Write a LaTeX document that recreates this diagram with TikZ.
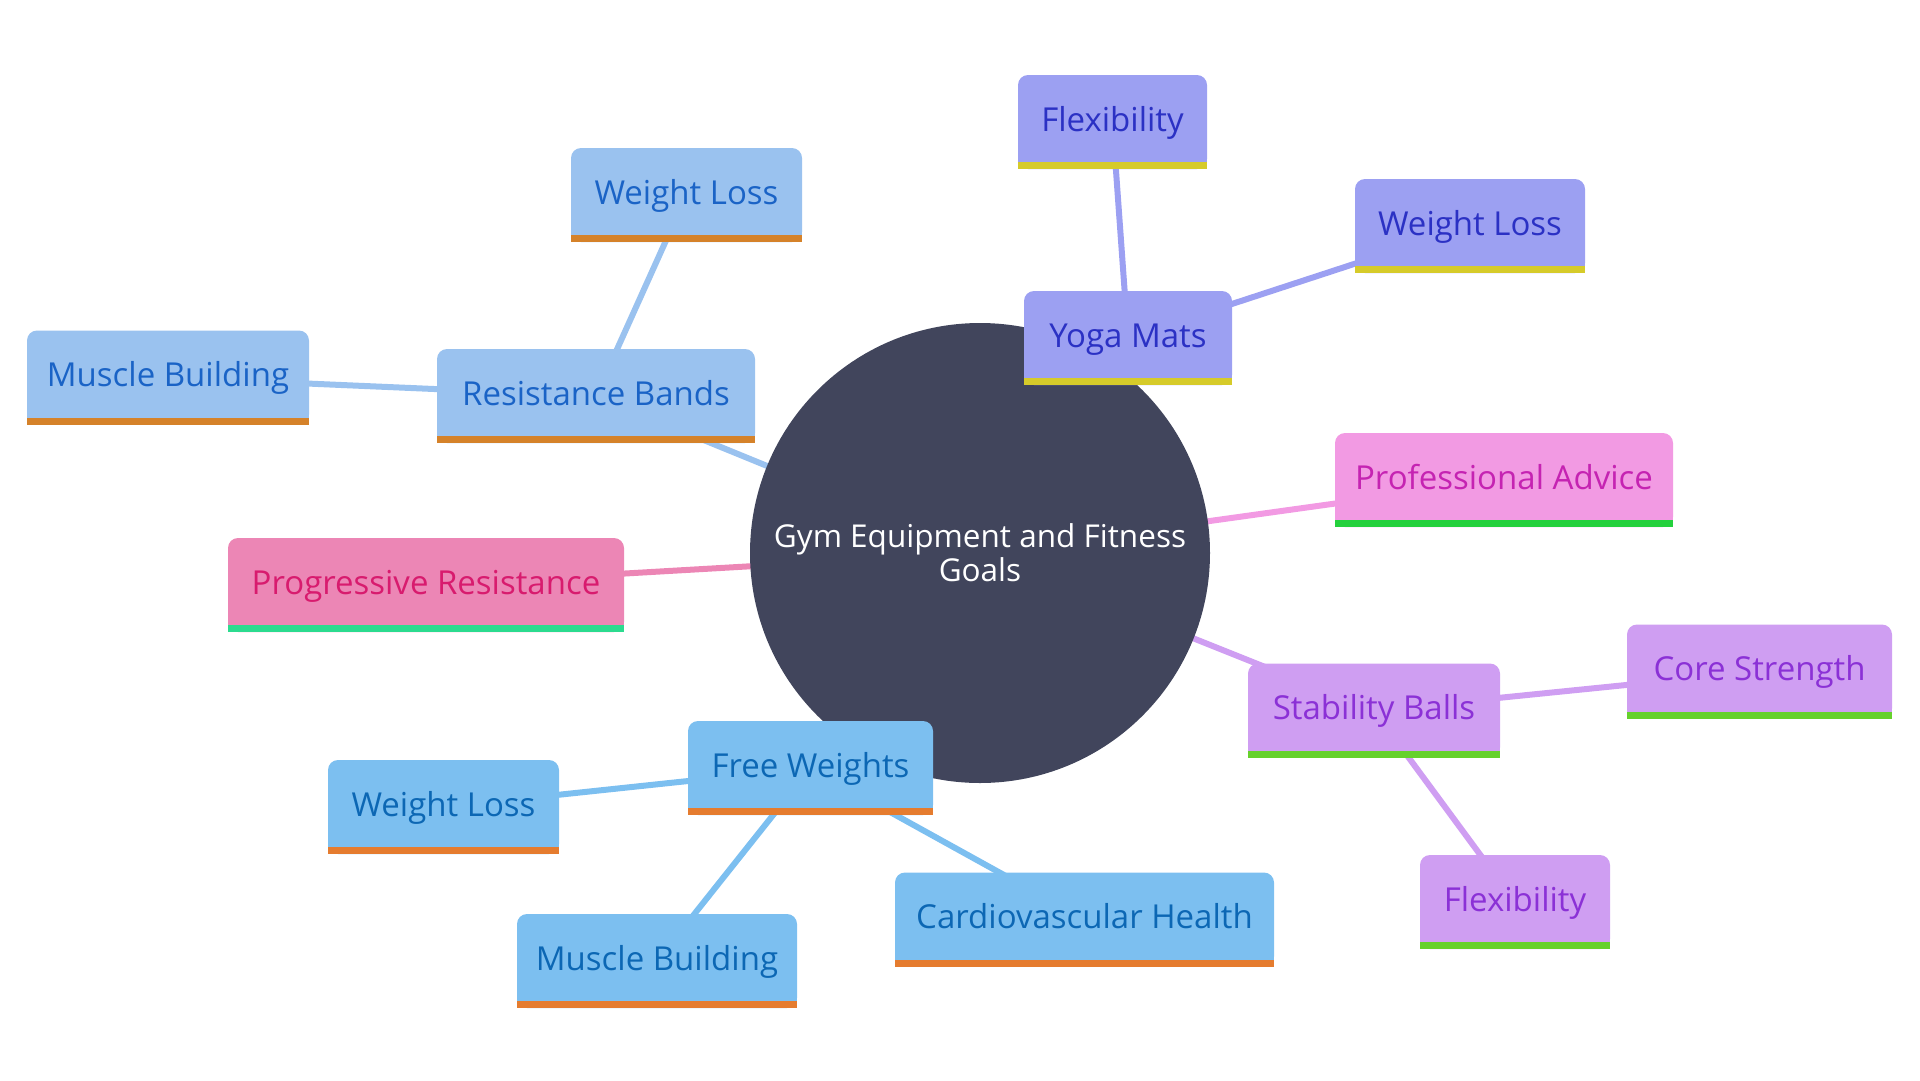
\documentclass[tikz,border=0pt]{standalone}
\usepackage{fontspec}
\setmainfont{Open Sans}
\definecolor{rootc}{HTML}{41455C}
\definecolor{rbF}{HTML}{9AC2EF}\definecolor{rbT}{HTML}{1A63C6}\definecolor{rbB}{HTML}{D5822A}
\definecolor{fwF}{HTML}{7CBFF0}\definecolor{fwT}{HTML}{0C67B4}\definecolor{fwB}{HTML}{E57C2F}
\definecolor{ymF}{HTML}{9CA0F2}\definecolor{ymT}{HTML}{2B31C4}\definecolor{ymB}{HTML}{D6CB2A}
\definecolor{paF}{HTML}{F29AE3}\definecolor{paT}{HTML}{C523B2}\definecolor{paB}{HTML}{24D13D}
\definecolor{prF}{HTML}{EC86B5}\definecolor{prT}{HTML}{D81B6E}\definecolor{prB}{HTML}{2CDB8F}
\definecolor{sbF}{HTML}{CF9EF2}\definecolor{sbT}{HTML}{8B31D6}\definecolor{sbB}{HTML}{66D12C}
\pgfdeclarelayer{edgelayer}
\pgfsetlayers{edgelayer,main}
\tikzset{
  leaf/.style n args={4}{rectangle, minimum width=#1, minimum height=94pt, inner sep=0pt,
    text=#2T, font=\fontsize{33}{40}\selectfont, text height=23pt, text depth=5pt,
    path picture={
      \fill[#2F, rounded corners=10pt] (path picture bounding box.south west) rectangle (path picture bounding box.north east);
      \fill[#2F] (path picture bounding box.south west) rectangle ([yshift=-20pt]path picture bounding box.east);
      \fill[#2B] (path picture bounding box.south west) rectangle ([yshift=7pt]path picture bounding box.south east);
    }},
  link/.style={line width=6pt, draw=#1F},
}
\begin{document}
\begin{tikzpicture}[x=1pt,y=-1pt]
\useasboundingbox (0,0) rectangle (1920,1080);
\node[circle, fill=rootc, minimum size=460pt, inner sep=0pt, text=white,
  font=\fontsize{31.5}{38}\selectfont, align=center] (root) at (980,553)
  {Gym Equipment and Fitness\\[-4pt]Goals};
% Resistance Bands
\node[leaf={318pt}{rb}{}{}] (rb) at (596,396) {Resistance Bands};
\node[leaf={231pt}{rb}{}{}] (rbwl) at (686.5,195) {Weight Loss};
\node[leaf={282pt}{rb}{}{}] (rbmb) at (168,377.5) {Muscle Building};
% Progressive Resistance
\node[leaf={396pt}{pr}{}{}] (pr) at (426,585) {Progressive Resistance};
% Professional Advice
\node[leaf={338pt}{pa}{}{}] (pa) at (1504,480) {Professional Advice};
% Yoga Mats
\node[leaf={208pt}{ym}{}{}] (ym) at (1128,338) {Yoga Mats};
\node[leaf={189pt}{ym}{}{}] (ymfl) at (1112.5,122) {Flexibility};
\node[leaf={230pt}{ym}{}{}] (ymwl) at (1470,226) {Weight Loss};
% Free Weights
\node[leaf={245pt}{fw}{}{}] (fw) at (810.5,768) {Free Weights};
\node[leaf={231pt}{fw}{}{}] (fwwl) at (443.5,807) {Weight Loss};
\node[leaf={280pt}{fw}{}{}] (fwmb) at (657,961) {Muscle Building};
\node[leaf={379pt}{fw}{}{}] (fwch) at (1084.5,919.5) {Cardiovascular Health};
% Stability Balls
\node[leaf={252pt}{sb}{}{}] (sb) at (1374,710.5) {Stability Balls};
\node[leaf={265pt}{sb}{}{}] (sbcs) at (1759.5,671.5) {Core Strength};
\node[leaf={190pt}{sb}{}{}] (sbfl) at (1515,902) {Flexibility};
\begin{pgfonlayer}{edgelayer}
\draw[link=rb] (root.center) -- (rb.center);
\draw[link=rb] (rb.center) -- (rbwl.center);
\draw[link=rb] (rb.center) -- (rbmb.center);
\draw[link=pr] (root.center) -- (pr.center);
\draw[link=pa] (root.center) -- (pa.center);
\draw[link=ym] (root.center) -- (ym.center);
\draw[link=ym] (ym.center) -- (ymfl.center);
\draw[link=ym] (ym.center) -- (ymwl.center);
\draw[link=fw] (root.center) -- (fw.center);
\draw[link=fw] (fw.center) -- (fwwl.center);
\draw[link=fw] (fw.center) -- (fwmb.center);
\draw[link=fw] (fw.center) -- (fwch.center);
\draw[link=sb] (root.center) -- (sb.center);
\draw[link=sb] (sb.center) -- (sbcs.center);
\draw[link=sb] (sb.center) -- (sbfl.center);
\end{pgfonlayer}
\end{tikzpicture}
\end{document}
